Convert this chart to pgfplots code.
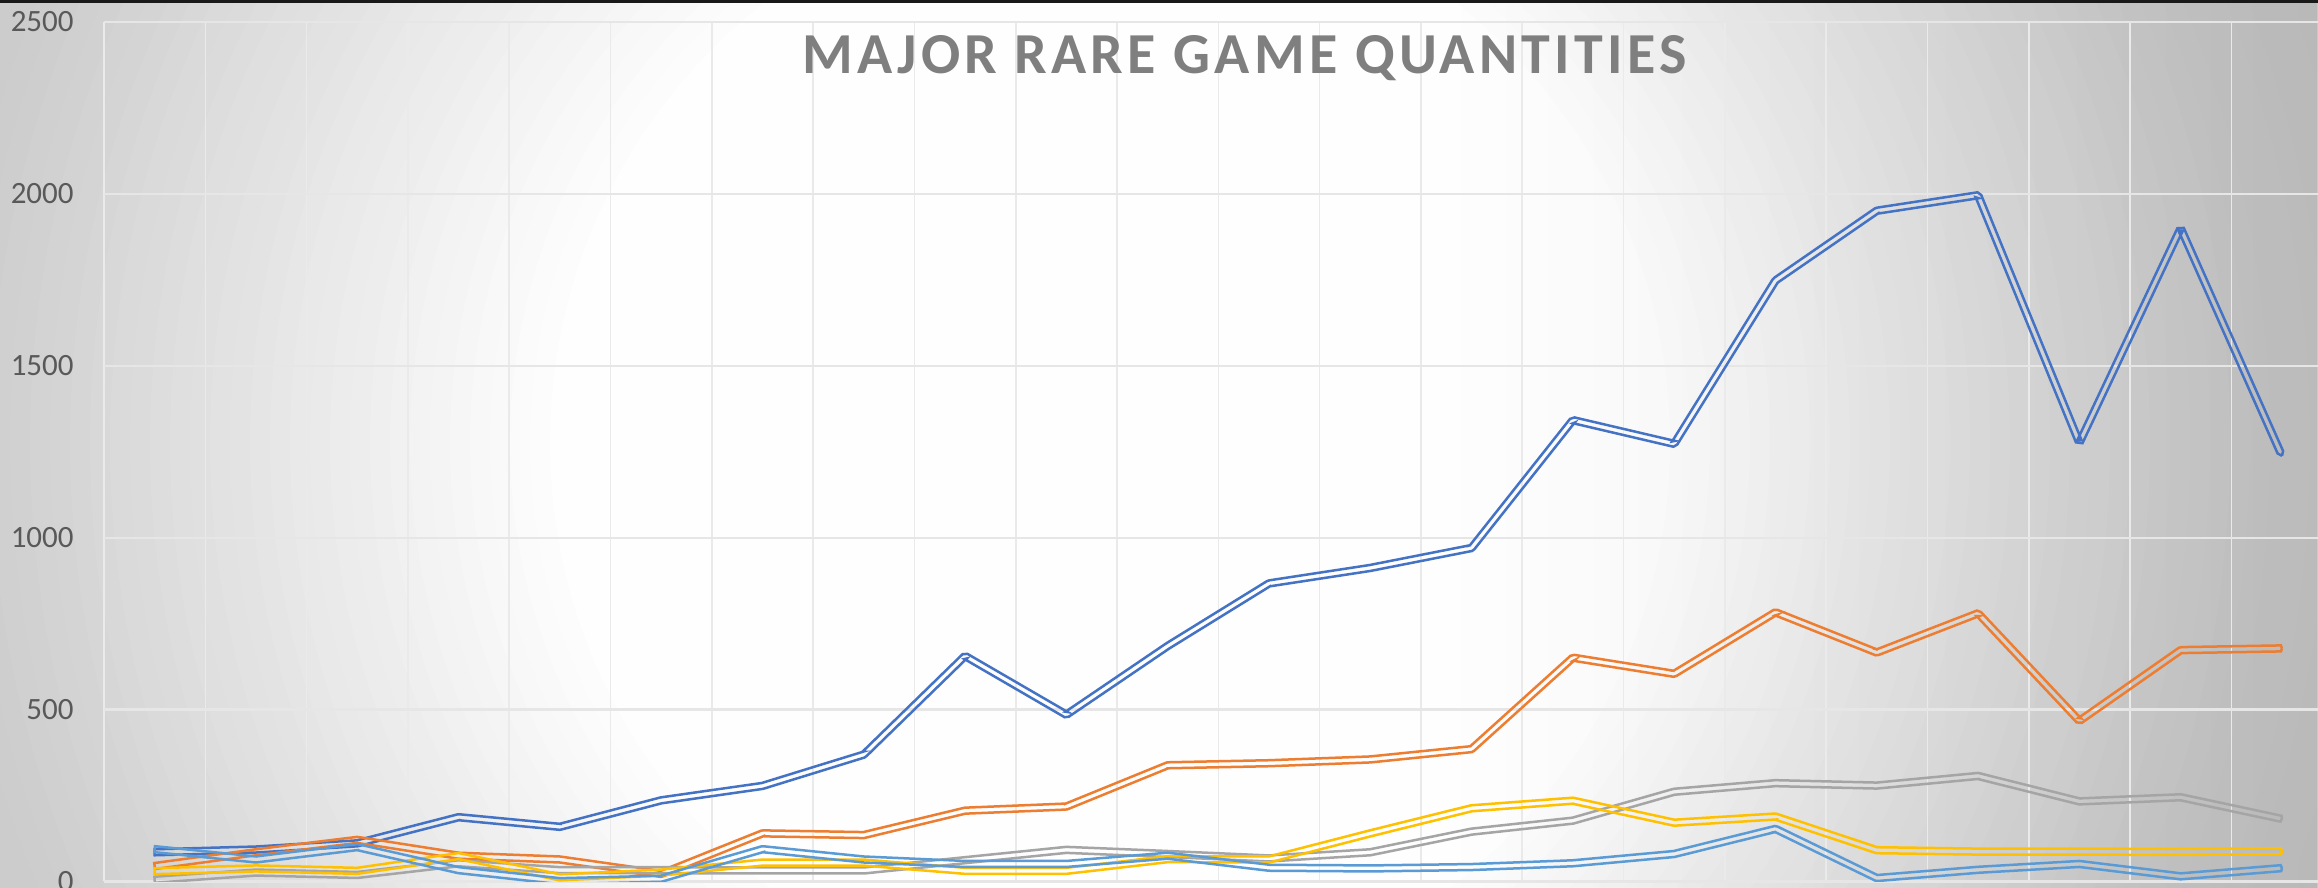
\documentclass[border=0pt]{standalone}
\usepackage{fontspec}
\setmainfont{Carlito}
\usepackage{pgfplots}
\pgfplotsset{compat=1.18}
\usetikzlibrary{decorations.pathmorphing,fadings}
\definecolor{gridc}{HTML}{E6E6E6}
\definecolor{vgridc}{HTML}{EAEAEA}
\definecolor{zeroc}{HTML}{D9D9D9}
\definecolor{labc}{HTML}{595959}
\definecolor{titlec}{HTML}{7F7F7F}
\definecolor{cA}{HTML}{4472C4}
\definecolor{cB}{HTML}{ED7D31}
\definecolor{cC}{HTML}{A5A5A5}
\definecolor{cD}{HTML}{FFC000}
\definecolor{cE}{HTML}{5B9BD5}
\tikzfading[name=fr, left color=transparent!100, right color=transparent!0]
\tikzset{
  dbl/.style={draw=none,
    postaction={draw=#1, line width=1.25pt, decorate, decoration={curveto, raise=1.5pt}},
    postaction={draw=#1, line width=1.25pt, decorate, decoration={curveto, raise=-1.5pt}}}
}
\pgfplotstableread{
i A B C D E
0 85 45 5 30 94
1 93 85 26 38 64
2 111 121 19 31 100
3 187 75 53 74 33
4 159 64 33 12 1
5 236 22 33 26 8
6 278 140 32 55 94
7 369 135 32 55 64
8 656 206 62 31 51
9 485 218 92 31 51
10 685 338 80 65 75
11 867 344 67 64 40
12 912 355 85 140 38
13 970 385 145 213 42
14 1342 651 177 235 53
15 1273 604 261 171 80
16 1748 783 286 189 153
17 1951 666 279 91 10
18 1996 780 307 87 34
19 1276 467 233 87 51
20 1900 673 245 86 15
21 1238 678 182 88 39
}\datatable
\begin{document}
\begin{tikzpicture}
\useasboundingbox (0,0) rectangle (1159pt,444pt);
\clip (0,0) rectangle (1159pt,444pt);
\fill[white] (0,0) rectangle (1159pt,444pt);
\foreach \r in {760,750,...,280} {
  \pgfmathsetmacro\g{(\r>575) ? max(0.753, 0.804-(\r-575)/125*0.0275) : 1-(\r-275)/300*0.196}
  \definecolor{tmpg}{gray}{\g}
  \fill[tmpg] (555pt,222.5pt) circle (\r pt);
}
\fill[black, opacity=0.08, path fading=fr] (720pt,0pt) rectangle (1159pt,444pt);
\begin{axis}[
  at={(52pt,3.25pt)}, anchor=south west,
  scale only axis, width=1114.3pt, height=429.75pt,
  xmin=-0.5, xmax=21.5, ymin=0, ymax=2500,
  xtick={-0.5,0.5,...,21.5}, xticklabels={},
  ytick={0,500,...,2500},
  scaled y ticks=false,
  /pgf/number format/1000 sep={},
  /pgf/number format/assume math mode=true,
  major tick length=0pt,
  axis line style={draw=none},
  xmajorgrids, ymajorgrids,
  x grid style={color=vgridc, line width=0.8pt},
  y grid style={color=gridc, line width=1.1pt},
  extra y ticks={0}, extra y tick labels={},
  extra y tick style={grid style={color=zeroc, line width=1.5pt}},
  yticklabel style={font=\fontsize{15.5pt}{15.5pt}\selectfont, text=labc, anchor=east, inner sep=0pt, xshift=-15pt},
  clip=true,
]
\addplot[dbl=cA] table[x=i, y=A] {\datatable};
\addplot[dbl=cB] table[x=i, y=B] {\datatable};
\addplot[dbl=cC] table[x=i, y=C] {\datatable};
\addplot[dbl=cD] table[x=i, y=D] {\datatable};
\addplot[dbl=cE] table[x=i, y=E] {\datatable};
\end{axis}
\node[anchor=base, inner sep=0pt, text=titlec, font=\bfseries\fontsize{29pt}{29pt}\selectfont\addfontfeatures{LetterSpace=7.4}] at (622.25pt,407pt) {MAJOR RARE GAME QUANTITIES};
\fill[black!90] (0,442.35pt) rectangle (1159pt,444pt);
\end{tikzpicture}
\end{document}
